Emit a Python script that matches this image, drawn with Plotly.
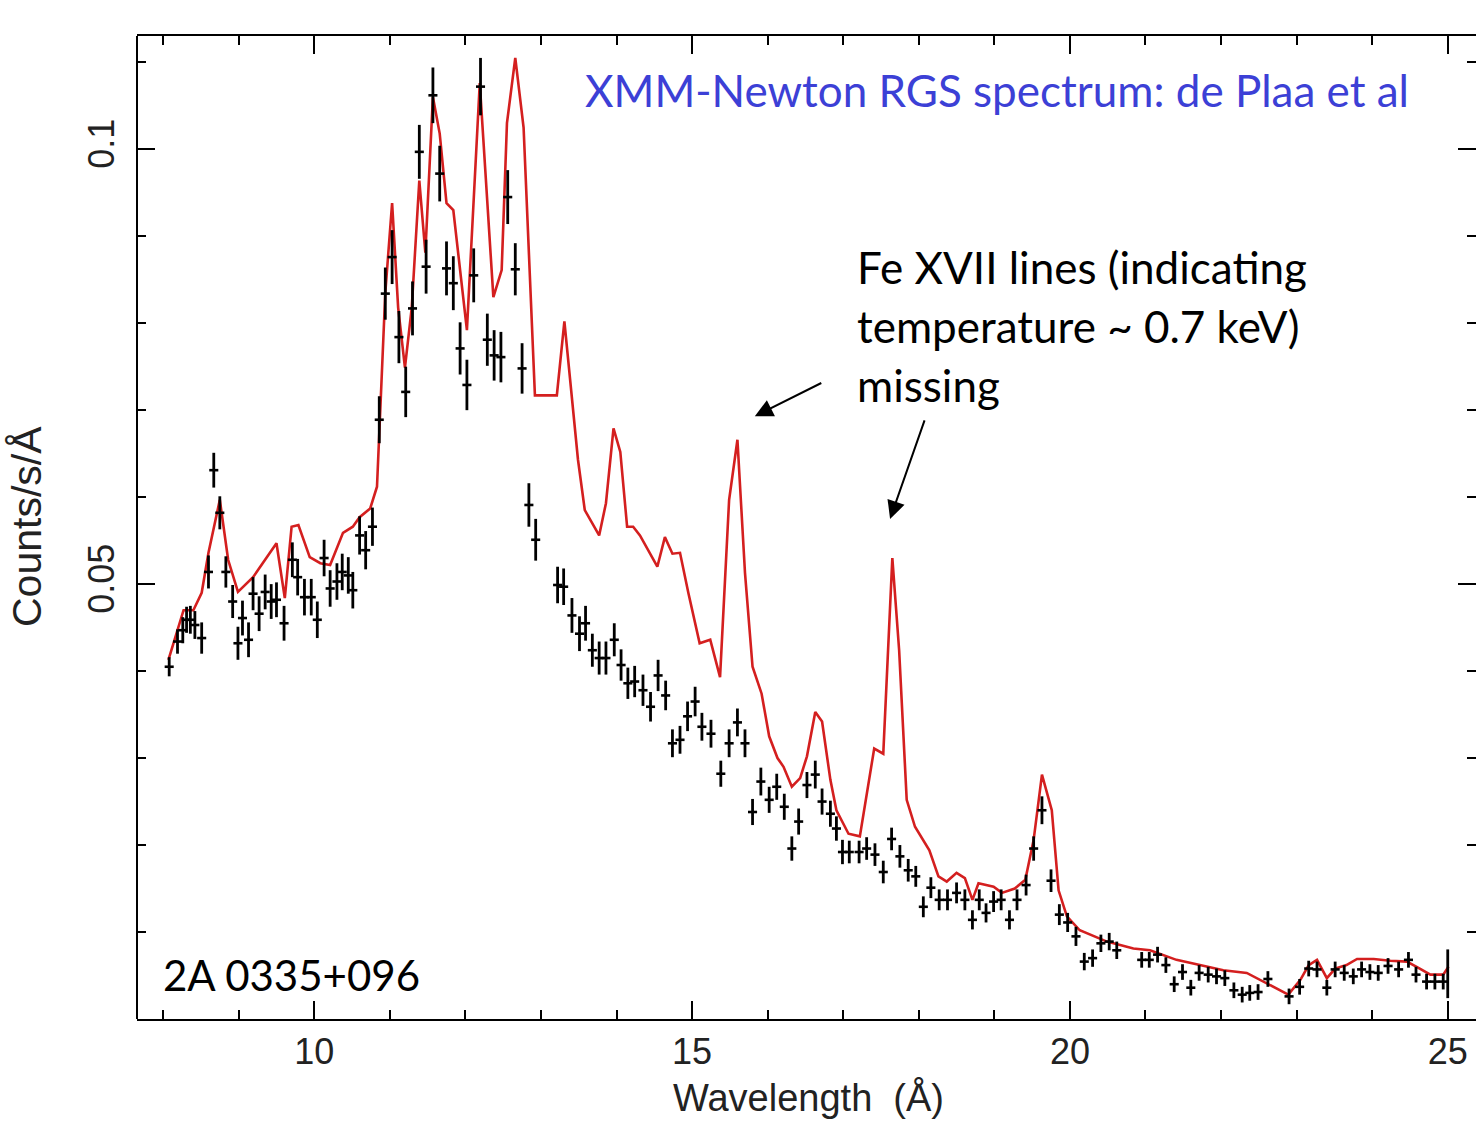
import plotly.graph_objects as go

# RGS data points: wavelength (Angstrom), count rate (counts/s/A), 1-sigma error
WAVE = [8.08, 8.19, 8.26, 8.31, 8.36, 8.42, 8.51, 8.60, 8.67, 8.75, 8.83, 8.92, 8.99, 9.05, 9.13, 9.19, 9.27, 9.35,
        9.43, 9.50, 9.60, 9.71, 9.78, 9.87, 9.96, 10.04, 10.13, 10.21, 10.30, 10.37, 10.45, 10.51, 10.60, 10.68, 10.77,
        10.86, 10.94, 11.03, 11.12, 11.21, 11.30, 11.39, 11.48, 11.57, 11.66, 11.75, 11.84, 11.93, 12.02, 12.11, 12.20,
        12.29, 12.38, 12.47, 12.56, 12.66, 12.75,
        12.84, 12.93,
        13.22, 13.30, 13.41, 13.51, 13.59, 13.68, 13.77, 13.86, 13.97, 14.06, 14.15, 14.24, 14.35, 14.45, 14.55, 14.65,
        14.74, 14.84, 14.94, 15.04, 15.13, 15.25, 15.38, 15.49, 15.60, 15.70,
        15.80, 15.91, 16.02, 16.12, 16.22, 16.32, 16.41, 16.52, 16.63, 16.72, 16.83, 16.91, 16.99,
        17.08, 17.21, 17.31, 17.42, 17.53, 17.64, 17.75, 17.86, 17.96, 18.06, 18.16, 18.27, 18.38, 18.50, 18.61, 18.71,
        18.80, 18.89, 18.99, 19.09, 19.20, 19.30, 19.42, 19.52, 19.63, 19.75, 19.86, 19.97,
        20.08, 20.19, 20.30, 20.41, 20.52, 20.62, 20.95, 21.05, 21.16, 21.27, 21.38, 21.49, 21.60, 21.71, 21.83, 21.94,
        22.05, 22.17, 22.28, 22.38, 22.49, 22.62, 22.90, 23.04, 23.16, 23.27, 23.40, 23.51, 23.63, 23.75, 23.86, 23.97,
        24.08, 24.21, 24.35, 24.48, 24.58, 24.72, 24.83, 24.94, 25.00]

RATE = [0.0405, 0.0434, 0.0447, 0.0459, 0.0459, 0.0453, 0.0438, 0.0514, 0.0631, 0.0582, 0.0514, 0.0480, 0.0432, 0.0461,
        0.0436, 0.0489, 0.0466, 0.0491, 0.0480, 0.0482, 0.0455, 0.0528, 0.0508, 0.0485, 0.0485, 0.0459, 0.0530, 0.0495,
        0.0503, 0.0514, 0.0510, 0.0493, 0.0556, 0.0539, 0.0566,
        0.0689, 0.0834, 0.0876, 0.0784, 0.0721, 0.0817, 0.0997, 0.0865, 0.1062, 0.0972, 0.0863, 0.0846, 0.0771, 0.0729,
        0.0855, 0.1072, 0.0781, 0.0763, 0.0761, 0.0945, 0.0862, 0.0748,
        0.0591, 0.0551,
        0.0499, 0.0497, 0.0464, 0.0443, 0.0455, 0.0424, 0.0415, 0.0415, 0.0436, 0.0407, 0.0386, 0.0388, 0.0378, 0.0359,
        0.0395, 0.0372, 0.0317, 0.0321, 0.0348, 0.0365, 0.0336, 0.0328, 0.0282, 0.0317, 0.0341, 0.0317,
        0.0238, 0.0273, 0.0252, 0.0267, 0.0244, 0.0196, 0.0227, 0.0269, 0.0281, 0.0250, 0.0236, 0.0219, 0.0192,
        0.0192, 0.0192, 0.0196, 0.0189, 0.0169, 0.0207, 0.0187, 0.0171, 0.0164, 0.0129, 0.0151, 0.0137, 0.0137, 0.0145,
        0.0137, 0.0114, 0.0137, 0.0122, 0.0135, 0.0137, 0.0114, 0.0137, 0.0154, 0.0196, 0.0240, 0.0159, 0.0120, 0.0111,
        0.0095, 0.0066, 0.0070, 0.0087, 0.0089, 0.0079, 0.0068, 0.0068, 0.0074, 0.0062, 0.0040, 0.0054, 0.0036, 0.0053,
        0.0051, 0.0049, 0.0047, 0.0033, 0.0028, 0.0030, 0.0031, 0.0046, 0.0026, 0.0037, 0.0058, 0.0057, 0.0036, 0.0057,
        0.0053, 0.0049, 0.0057, 0.0054, 0.0053, 0.0061, 0.0057, 0.0068, 0.0051, 0.0043, 0.0043, 0.0043, 0.0052]

RATE_ERR = [0.0011, 0.0014, 0.0015, 0.0015, 0.0016, 0.0016, 0.0018, 0.0019, 0.0020, 0.0019, 0.0018, 0.0019, 0.0019,
            0.0020, 0.0020, 0.0019, 0.0020, 0.0020, 0.0020, 0.0020, 0.0020, 0.0020, 0.0021, 0.0021, 0.0021, 0.0021,
            0.0021, 0.0021, 0.0021, 0.0021, 0.0021, 0.0021, 0.0022, 0.0022, 0.0022,
            0.0027, 0.0030, 0.0031, 0.0030, 0.0029, 0.0031, 0.0031, 0.0031, 0.0032, 0.0032, 0.0031, 0.0031, 0.0030,
            0.0029, 0.0031, 0.0033, 0.0030, 0.0029, 0.0029, 0.0031, 0.0030, 0.0029,
            0.0025, 0.0024,
            0.0021, 0.0021, 0.0020, 0.0020, 0.0020, 0.0019, 0.0019, 0.0019, 0.0019, 0.0018, 0.0018, 0.0018, 0.0018,
            0.0017, 0.0018, 0.0017, 0.0016, 0.0016, 0.0017, 0.0017, 0.0016, 0.0016, 0.0015, 0.0016, 0.0016, 0.0016,
            0.0015, 0.0016, 0.0015, 0.0015, 0.0015, 0.0014, 0.0015, 0.0015, 0.0016, 0.0015, 0.0015, 0.0014, 0.0014,
            0.0013, 0.0013, 0.0013, 0.0013, 0.0013, 0.0013, 0.0013, 0.0013, 0.0012, 0.0012, 0.0012, 0.0012, 0.0012,
            0.0012, 0.0012, 0.0011, 0.0012, 0.0011, 0.0012, 0.0012, 0.0011, 0.0012, 0.0012, 0.0014, 0.0016, 0.0013,
            0.0012, 0.0011,
            0.0011, 0.0010, 0.0010, 0.0010, 0.0010, 0.0010, 0.0009, 0.0009, 0.0009, 0.0009, 0.0009, 0.0009, 0.0009,
            0.0009, 0.0009, 0.0009, 0.0009, 0.0009, 0.0009, 0.0009, 0.0009, 0.0009, 0.0009, 0.0009, 0.0009, 0.0009,
            0.0009, 0.0009, 0.0009, 0.0009, 0.0009, 0.0009, 0.0009, 0.0009, 0.0009, 0.0009, 0.0009, 0.0009, 0.0009,
            0.0009, 0.0028]

# half width of each spectral bin (Angstrom)
BIN_HALF = [0.06] * (len(WAVE) - 1) + [0.0]

# best-fit model curve
MODEL_WAVE = [8.07, 8.27, 8.40, 8.51, 8.60, 8.75, 8.86, 8.99, 9.19, 9.50, 9.61, 9.70, 9.79, 9.94, 10.08, 10.21, 10.38,
              10.51, 10.60, 10.74, 10.83, 10.85, 10.94, 11.03, 11.11, 11.20, 11.29, 11.39, 11.47, 11.57, 11.66, 11.75,
              11.84, 12.02, 12.19, 12.37, 12.48, 12.55, 12.66, 12.77, 12.92, 13.21, 13.31, 13.49, 13.58, 13.77, 13.86,
              13.96, 14.05, 14.14, 14.22, 14.31, 14.54, 14.64, 14.74, 14.84, 14.95, 15.10, 15.24, 15.37, 15.49, 15.60,
              15.70, 15.80, 15.92, 16.02, 16.13, 16.21, 16.32, 16.43, 16.52, 16.63, 16.72, 16.83, 16.91, 17.07, 17.22,
              17.41, 17.53, 17.65, 17.74, 17.84, 17.95, 18.14, 18.26, 18.37, 18.50, 18.61, 18.71, 18.79, 18.99, 19.10,
              19.27, 19.41, 19.52, 19.63, 19.76, 19.85, 19.96, 20.13, 20.49, 20.84, 21.06, 21.41, 21.81, 22.03, 22.34,
              22.60, 22.89, 23.05, 23.16, 23.27, 23.40, 23.51, 23.66, 23.80, 24.02, 24.24, 24.46, 24.63, 24.77, 24.94,
              25.01]

MODEL_RATE = [0.0413, 0.0470, 0.0470, 0.0490, 0.0536, 0.0597, 0.0528, 0.0491, 0.0508, 0.0547, 0.0484, 0.0566, 0.0568,
              0.0531, 0.0524, 0.0522, 0.0559, 0.0566, 0.0577, 0.0587, 0.0612, 0.0651, 0.0835, 0.0938, 0.0818, 0.0749,
              0.0818, 0.0964, 0.0881, 0.1060, 0.1018, 0.0938, 0.0930, 0.0792, 0.1076, 0.0830, 0.0861, 0.1030, 0.1105,
              0.1025, 0.0717, 0.0717, 0.0802, 0.0643, 0.0585, 0.0556, 0.0593, 0.0679, 0.0652, 0.0566, 0.0566, 0.0556,
              0.0520, 0.0554, 0.0535, 0.0536, 0.0490, 0.0432, 0.0436, 0.0393, 0.0597, 0.0666, 0.0513, 0.0405, 0.0374,
              0.0325, 0.0300, 0.0290, 0.0267, 0.0277, 0.0302, 0.0353, 0.0342, 0.0275, 0.0240, 0.0213, 0.0210, 0.0311,
              0.0305, 0.0530, 0.0424, 0.0252, 0.0221, 0.0194, 0.0164, 0.0158, 0.0168, 0.0162, 0.0137, 0.0156, 0.0152,
              0.0145, 0.0150, 0.0160, 0.0206, 0.0281, 0.0240, 0.0148, 0.0118, 0.0102, 0.0089, 0.0081, 0.0079, 0.0068,
              0.0060, 0.0056, 0.0053, 0.0041, 0.0028, 0.0045, 0.0062, 0.0068, 0.0047, 0.0058, 0.0062, 0.0069, 0.0069,
              0.0067, 0.0066, 0.0058, 0.0051, 0.0051, 0.0060]

X_TICKS = [10, 15, 20, 25]
Y_TICKS = [0.05, 0.1]
Y_TICK_TEXT = ["0.05", "0.1"]

AXIS_FONT = dict(family="Liberation Sans, Arial, sans-serif", size=36, color="#222222")
NOTE_FONT = "Lato, Carlito, Calibri, sans-serif"

fig = go.Figure()

fig.add_trace(go.Scatter(
    x=MODEL_WAVE, y=MODEL_RATE, mode="lines",
    line=dict(color="#d41f1f", width=2.6),
    hoverinfo="skip", showlegend=False,
))

fig.add_trace(go.Scatter(
    x=WAVE, y=RATE, mode="markers",
    marker=dict(size=1, color="black", opacity=0),
    error_y=dict(type="data", array=RATE_ERR, visible=True, color="black", thickness=2.8, width=0),
    error_x=dict(type="data", array=BIN_HALF, visible=True, color="black", thickness=2.6, width=0),
    showlegend=False,
))

W, H = 1476, 1121
L, R, T, B = 137, 0, 36, 102
PW, PH = W - L - R, H - T - B


def px(xp):
    return (xp - L) / PW


def py(yp):
    return (H - B - yp) / PH


annotations = [
    dict(text="XMM-Newton RGS spectrum: de Plaa et al", xref="paper", yref="paper",
         x=px(583), y=py(90), xanchor="left", yanchor="middle", showarrow=False,
         font=dict(family=NOTE_FONT, size=44, color="#3c40d6")),
    dict(text="Fe XVII lines (indicating", xref="paper", yref="paper",
         x=px(855), y=py(267), xanchor="left", yanchor="middle", showarrow=False,
         font=dict(family=NOTE_FONT, size=44, color="black")),
    dict(text="temperature ~ 0.7 keV)", xref="paper", yref="paper",
         x=px(855), y=py(326), xanchor="left", yanchor="middle", showarrow=False,
         font=dict(family=NOTE_FONT, size=44, color="black")),
    dict(text="missing", xref="paper", yref="paper",
         x=px(855), y=py(385), xanchor="left", yanchor="middle", showarrow=False,
         font=dict(family=NOTE_FONT, size=44, color="black")),
    dict(text="2A 0335+096", xref="paper", yref="paper",
         x=px(161), y=py(975), xanchor="left", yanchor="middle", showarrow=False,
         font=dict(family=NOTE_FONT, size=42, color="black")),
    # arrows pointing at the Fe XVII model lines
    dict(x=15.83, y=0.0693, xref="x", yref="y", ax=68, ay=-34, text="", showarrow=True,
         arrowhead=2, arrowsize=1.8, arrowwidth=2, arrowcolor="black", standoff=0),
    dict(x=17.62, y=0.0575, xref="x", yref="y", ax=35, ay=-100, text="", showarrow=True,
         arrowhead=2, arrowsize=1.8, arrowwidth=2, arrowcolor="black", standoff=0),
    # axis titles
    dict(text="Wavelength  (Å)", xref="paper", yref="paper", x=px(808), y=py(1097),
         xanchor="center", yanchor="middle", showarrow=False,
         font=dict(family="Liberation Sans, Arial, sans-serif", size=38, color="#222222")),
    dict(text="Counts/s/Å", xref="paper", yref="paper", x=px(27), y=py(527), textangle=-90,
         xanchor="center", yanchor="middle", showarrow=False,
         font=dict(family="Liberation Sans, Arial, sans-serif", size=41, color="#222222")),
]

# left frame edge; the right edge of the frame lies just past the page
shapes = [
    dict(type="line", xref="paper", yref="paper", x0=0, x1=0, y0=0, y1=1,
         line=dict(color="black", width=2)),
]

fig.update_layout(
    width=W, height=H,
    margin=dict(l=L, r=R, t=T, b=B, pad=0),
    paper_bgcolor="white", plot_bgcolor="white",
    annotations=annotations,
    shapes=shapes,
    showlegend=False,
)

fig.update_xaxes(
    range=[7.654, 25.374], showgrid=False, zeroline=False,
    showline=True, linecolor="black", linewidth=2, mirror="allticks",
    ticks="inside", ticklen=18, tickwidth=2, tickcolor="black",
    tickvals=X_TICKS, ticktext=[str(v) for v in X_TICKS],
    tickfont=AXIS_FONT,
    minor=dict(ticks="inside", ticklen=9, tickwidth=2, tickcolor="black", dtick=1, tick0=0, showgrid=False),
)

fig.update_yaxes(
    range=[0, 0.11302], showgrid=False, zeroline=False,
    showline=False, mirror="allticks",
    ticks="inside", ticklen=18, tickwidth=2, tickcolor="black",
    tickvals=Y_TICKS, ticktext=Y_TICK_TEXT, tickangle=-90,
    tickfont=AXIS_FONT, ticklabelstandoff=15,
    minor=dict(ticks="inside", ticklen=9, tickwidth=2, tickcolor="black", dtick=0.01, tick0=0, showgrid=False),
)

fig.write_html("out.html")
